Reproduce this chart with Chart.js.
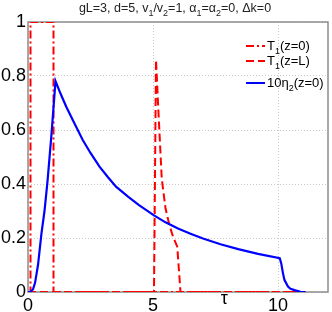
<!DOCTYPE html>
<html>
<head>
<meta charset="utf-8">
<script src="https://cdn.jsdelivr.net/npm/chart.js@4"></script>
<style>
  body { margin: 0; background: #fff; }
  canvas { display: block; }
</style>
</head>
<body>
<canvas id="chart" width="332" height="312"></canvas>
<script>
// values
let tauEdge = [0, 0.1, 0.1, 1.02, 1.02, 11.1];
let t1Edge = [0, 0, 1, 1, 0, 0];

let tauEnd = [0, 5.04, 5.12, 5.2, 5.35, 5.5, 5.65, 5.8, 5.97, 6.1, 11.1];
let t1End = [0, 0, 0.86, 0.7, 0.42, 0.31, 0.25, 0.205, 0.168, 0, 0];

let tauEta = [0, 0.1, 0.2, 0.28, 0.4, 0.54, 0.66, 0.78, 0.94, 1.1,
    1.3, 1.53, 1.8, 2.19, 2.5, 2.86, 3.2, 3.52, 4, 4.44, 5.04, 5.5, 6, 6.5, 7, 7.7, 8.41, 9.2, 10.07,
    10.13, 10.2, 10.26, 10.4, 10.5, 10.66, 10.9, 11.1];
let eta2 = [0, 0, 0.01, 0.033, 0.1, 0.218, 0.3, 0.41, 0.585, 0.781,
    0.735, 0.686, 0.635, 0.563, 0.515, 0.464, 0.425, 0.39, 0.353, 0.322, 0.284, 0.258, 0.235, 0.216, 0.198, 0.177, 0.159, 0.141, 0.125,
    0.106, 0.069, 0.044, 0.02, 0.012, 0.007, 0.001, 0];

let xTicks = [0, 5, 10];
let yTicks = [0, 0.2, 0.4, 0.6, 0.8, 1];
let yTickLabels = ['0', '0.2', '0.4', '0.6', '0.8', '1'];

let titleText = 'gL=3, d=5, v_1/v_2=1, α_1=α_2=0, Δk=0';
let legendLabels = ['T_1(z=0)', 'T_1(z=L)', '10η_2(z=0)'];

const FONT = '"Liberation Sans", Arial, sans-serif';

function pts(xs, ys) {
    return xs.map((x, i) => ({ x: x, y: ys[i] }));
}

// text with "_c" subscripts
function drawRich(ctx, str, x, y, size, align) {
    let parts = [];
    for (let i = 0; i < str.length; i++) {
        if (str[i] === '_') { parts.push({ t: str[i + 1], sub: true }); i++; }
        else parts.push({ t: str[i], sub: false });
    }
    let subSize = Math.round(size * 0.72);
    let w = 0;
    parts.forEach(p => {
        ctx.font = (p.sub ? subSize : size) + 'px ' + FONT;
        p.w = ctx.measureText(p.t).width;
        w += p.w;
    });
    let cx = align === 'center' ? x - w / 2 : x;
    ctx.textBaseline = 'alphabetic';
    ctx.textAlign = 'left';
    parts.forEach(p => {
        ctx.font = (p.sub ? subSize : size) + 'px ' + FONT;
        ctx.fillText(p.t, cx, p.sub ? y + size * 0.3 : y);
        cx += p.w;
    });
}

const decor = {
    id: 'decor',
    beforeDatasetsDraw(chart) {
        let ctx = chart.ctx, a = chart.chartArea;
        ctx.save();
        ctx.strokeStyle = '#8c8c8c';
        ctx.lineWidth = 1.5;
        ctx.strokeRect(a.left, a.top, a.right - a.left, a.bottom - a.top);
        ctx.restore();
    },
    afterDraw(chart) {
        let ctx = chart.ctx;
        let xs = chart.scales.x;
        ctx.save();
        ctx.fillStyle = '#222';
        drawRich(ctx, titleText, 175, 12, 12.5, 'center');

        ctx.fillStyle = '#000';
        ctx.font = '18px ' + FONT;
        ctx.textAlign = 'center';
        ctx.textBaseline = 'middle';
        ctx.fillText('τ', xs.getPixelForValue(7.85), 299);

        // legend
        let rows = [46, 61, 83];
        chart.data.datasets.slice().sort((p, q) => p.legendIndex - q.legendIndex).forEach((ds, i) => {
            let y = rows[i];
            ctx.strokeStyle = ds.borderColor;
            ctx.lineWidth = 2;
            ctx.setLineDash(ds.borderDash || []);
            ctx.beginPath();
            ctx.moveTo(246, y);
            ctx.lineTo(265, y);
            ctx.stroke();
            ctx.setLineDash([]);
            ctx.fillStyle = '#000';
            drawRich(ctx, legendLabels[i], 267, y + 4, 13, 'left');
        });
        ctx.restore();
    }
};

let ctx = document.getElementById('chart').getContext('2d');
new Chart(ctx, {
    type: 'line',
    data: {
        datasets: [
            {
                data: pts(tauEta, eta2),
                borderColor: '#0000ff',
                borderWidth: 2.2,
                order: 0,
                legendIndex: 2
            },
            {
                data: pts(tauEnd, t1End),
                borderColor: '#ff0000',
                borderWidth: 2,
                borderDash: [8, 4],
                order: 1,
                legendIndex: 1
            },
            {
                data: pts(tauEdge, t1Edge),
                borderColor: '#ff0000',
                borderWidth: 2,
                borderDash: [8, 3, 2, 3],
                order: 2,
                legendIndex: 0
            }
        ]
    },
    options: {
        responsive: false,
        animation: false,
        layout: { padding: { top: 22, right: 4, left: 0, bottom: 0 } },
        elements: { point: { radius: 0 }, line: { tension: 0 } },
        plugins: {
            legend: { display: false },
            tooltip: { enabled: false }
        },
        scales: {
            x: {
                type: 'linear',
                min: 0,
                max: 12,
                afterBuildTicks: s => { s.ticks = xTicks.map(v => ({ value: v })); },
                afterFit: s => { s.height = 20; },
                ticks: {
                    padding: 3,
                    color: '#000',
                    font: { family: FONT, size: 18 },
                    maxRotation: 0
                },
                grid: {
                    drawTicks: false,
                    color: '#c8c8c8',
                    lineWidth: 1
                },
                border: { display: false, dash: [1, 2] }
            },
            y: {
                min: 0,
                max: 1,
                afterBuildTicks: s => { s.ticks = yTicks.map(v => ({ value: v })); },
                afterFit: s => { s.width = 28; },
                ticks: {
                    padding: 2,
                    color: '#000',
                    font: { family: FONT, size: 18 },
                    callback: (v, i) => yTickLabels[i]
                },
                grid: {
                    drawTicks: false,
                    color: '#c8c8c8',
                    lineWidth: 1
                },
                border: { display: false, dash: [1, 2] }
            }
        }
    },
    plugins: [decor]
});
</script>
</body>
</html>
